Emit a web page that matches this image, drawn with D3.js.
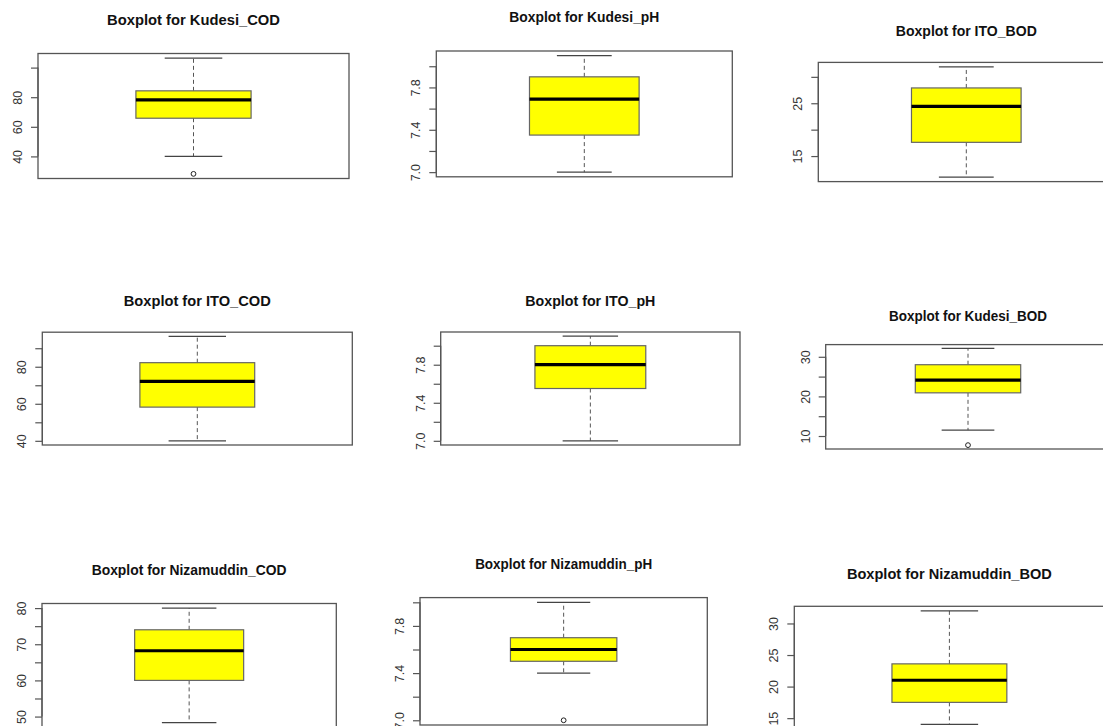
<!DOCTYPE html>
<html>
<head>
<meta charset="utf-8">
<script src="https://cdn.jsdelivr.net/npm/d3@7"></script>
<style>
  html, body { margin: 0; padding: 0; background: #ffffff; }
  svg { display: block; }
</style>
</head>
<body>
<svg id="chart" width="1103" height="726"></svg>
<script>
// ---------------- DATA ----------------
const titles = [
  "Boxplot for Kudesi_COD", "Boxplot for Kudesi_pH", "Boxplot for ITO_BOD",
  "Boxplot for ITO_COD", "Boxplot for ITO_pH", "Boxplot for Kudesi_BOD",
  "Boxplot for Nizamuddin_COD", "Boxplot for Nizamuddin_pH", "Boxplot for Nizamuddin_BOD"
];
const lowerWhisker = [40, 7.0, 11, 40, 7.0, 11.5, 48.3, 7.4, 14];
const q1Values     = [65.8, 7.35, 17.6, 58.2, 7.55, 20.9, 60, 7.5, 17.5];
const medianValues = [78.2, 7.69, 24.4, 72.1, 7.8, 24.1, 68.2, 7.6, 21];
const q3Values     = [84.3, 7.9, 27.9, 82.2, 8.0, 28.0, 74, 7.7, 23.6];
const upperWhisker = [106.4, 8.1, 31.9, 96.4, 8.1, 32.1, 80, 8.0, 32];
const outlierValues = [[28.2], [], [], [], [], [7.7], [], [7.0], []];

const tickValues = [
  [40, 60, 80, 100],
  [7.0, 7.2, 7.4, 7.6, 7.8, 8.0],
  [15, 20, 25, 30],
  [40, 50, 60, 70, 80, 90],
  [7.0, 7.2, 7.4, 7.6, 7.8, 8.0],
  [10, 15, 20, 25, 30],
  [50, 55, 60, 65, 70, 75, 80],
  [7.0, 7.2, 7.4, 7.6, 7.8, 8.0],
  [15, 20, 25, 30]
];
const tickLabels = [
  ["40", "60", "80", ""],
  ["7.0", "", "7.4", "", "7.8", ""],
  ["15", "", "25", ""],
  ["40", "", "60", "", "80", ""],
  ["7.0", "", "7.4", "", "7.8", ""],
  ["10", "", "20", "", "30"],
  ["50", "", "60", "", "70", "", "80"],
  ["7.0", "", "7.4", "", "7.8", ""],
  ["15", "20", "25", "30"]
];

// ---------------- LAYOUT (pixel frames of each pasted panel) ----------------
// [left, right, top, bottom, titleBaseline, titleWidth]
const layout = [
  [38, 349, 53.5, 178.5, 25, 173],
  [436.3, 732.3, 51, 176.8, 21.5, 150],
  [818.3, 1114.3, 62.4, 181.6, 35.5, 141],
  [42.3, 352.3, 332.2, 445, 306, 147],
  [440.7, 740, 332, 445, 306, 130],
  [825.7, 1110.3, 344.6, 449, 321, 158],
  [42, 336.3, 603.5, 727.3, 575, 195],
  [420, 707.3, 597.6, 725, 568.5, 177],
  [794.3, 1104.5, 606.3, 729, 579, 205]
];

const svg = d3.select("#chart");
const FONT = "'Liberation Sans', Arial, Helvetica, sans-serif";

titles.forEach((title, i) => {
  const [L, R, T, B, tY, tW] = layout[i];
  const g = svg.append("g");

  // R-style scales: 4% padding on each side
  const lo = d3.min([lowerWhisker[i], ...outlierValues[i]]);
  const hi = d3.max([upperWhisker[i], ...outlierValues[i]]);
  const pad = (hi - lo) * 0.04;
  const y = d3.scaleLinear().domain([lo - pad, hi + pad]).range([B, T]);
  const x = d3.scaleLinear().domain([0.5 - 0.04, 1.5 + 0.04]).range([L, R]);

  // title
  g.append("text")
    .attr("x", (L + R) / 2).attr("y", tY)
    .attr("text-anchor", "middle")
    .attr("font-family", FONT).attr("font-weight", "bold")
    .attr("font-size", 15).attr("fill", "#111")
    .attr("textLength", tW).attr("lengthAdjust", "spacingAndGlyphs")
    .text(title);

  // whiskers (dashed)
  g.append("line")
    .attr("x1", x(1)).attr("x2", x(1))
    .attr("y1", y(q3Values[i])).attr("y2", y(upperWhisker[i]))
    .attr("stroke", "#555").attr("stroke-width", 1).attr("stroke-dasharray", "4,3");
  g.append("line")
    .attr("x1", x(1)).attr("x2", x(1))
    .attr("y1", y(q1Values[i])).attr("y2", y(lowerWhisker[i]))
    .attr("stroke", "#555").attr("stroke-width", 1).attr("stroke-dasharray", "4,3");

  // staples
  [upperWhisker[i], lowerWhisker[i]].forEach(v => {
    g.append("line")
      .attr("x1", x(0.9)).attr("x2", x(1.1))
      .attr("y1", y(v)).attr("y2", y(v))
      .attr("stroke", "#444").attr("stroke-width", 1.3);
  });

  // box
  g.append("rect")
    .attr("x", x(0.8)).attr("width", x(1.2) - x(0.8))
    .attr("y", y(q3Values[i])).attr("height", y(q1Values[i]) - y(q3Values[i]))
    .attr("fill", "#ffff00").attr("stroke", "#666").attr("stroke-width", 1.2);

  // median
  g.append("line")
    .attr("x1", x(0.8)).attr("x2", x(1.2))
    .attr("y1", y(medianValues[i])).attr("y2", y(medianValues[i]))
    .attr("stroke", "#000").attr("stroke-width", 3.2);

  // outliers
  g.selectAll("circle.out").data(outlierValues[i]).enter().append("circle")
    .attr("class", "out")
    .attr("cx", x(1)).attr("cy", d => y(d)).attr("r", 2.4)
    .attr("fill", "none").attr("stroke", "#222").attr("stroke-width", 1);

  // frame
  g.append("rect")
    .attr("x", L).attr("y", T).attr("width", R - L).attr("height", B - T)
    .attr("fill", "none").attr("stroke", "#555").attr("stroke-width", 1.3);

  // y axis
  const labels = tickLabels[i];
  const axis = d3.axisLeft(y)
    .tickValues(tickValues[i])
    .tickFormat((d, k) => labels[k])
    .tickSizeOuter(0).tickSize(7);
  const ag = g.append("g").attr("transform", `translate(${L},0)`).call(axis);
  ag.select(".domain").remove();
  ag.selectAll(".tick line").attr("stroke", "#555").attr("stroke-width", 1.2);
  ag.selectAll(".tick text")
    .attr("x", null).attr("dy", null)
    .attr("transform", "translate(-20,0) rotate(-90)")
    .attr("text-anchor", "middle")
    .attr("dominant-baseline", "central")
    .attr("font-family", FONT).attr("font-size", 12.5)
    .attr("fill", "#333");
  const tv = tickValues[i];
  ag.append("line")
    .attr("x1", 0).attr("x2", 0)
    .attr("y1", y(tv[0])).attr("y2", y(tv[tv.length - 1]))
    .attr("stroke", "#555").attr("stroke-width", 1.2);
});
</script>
</body>
</html>
